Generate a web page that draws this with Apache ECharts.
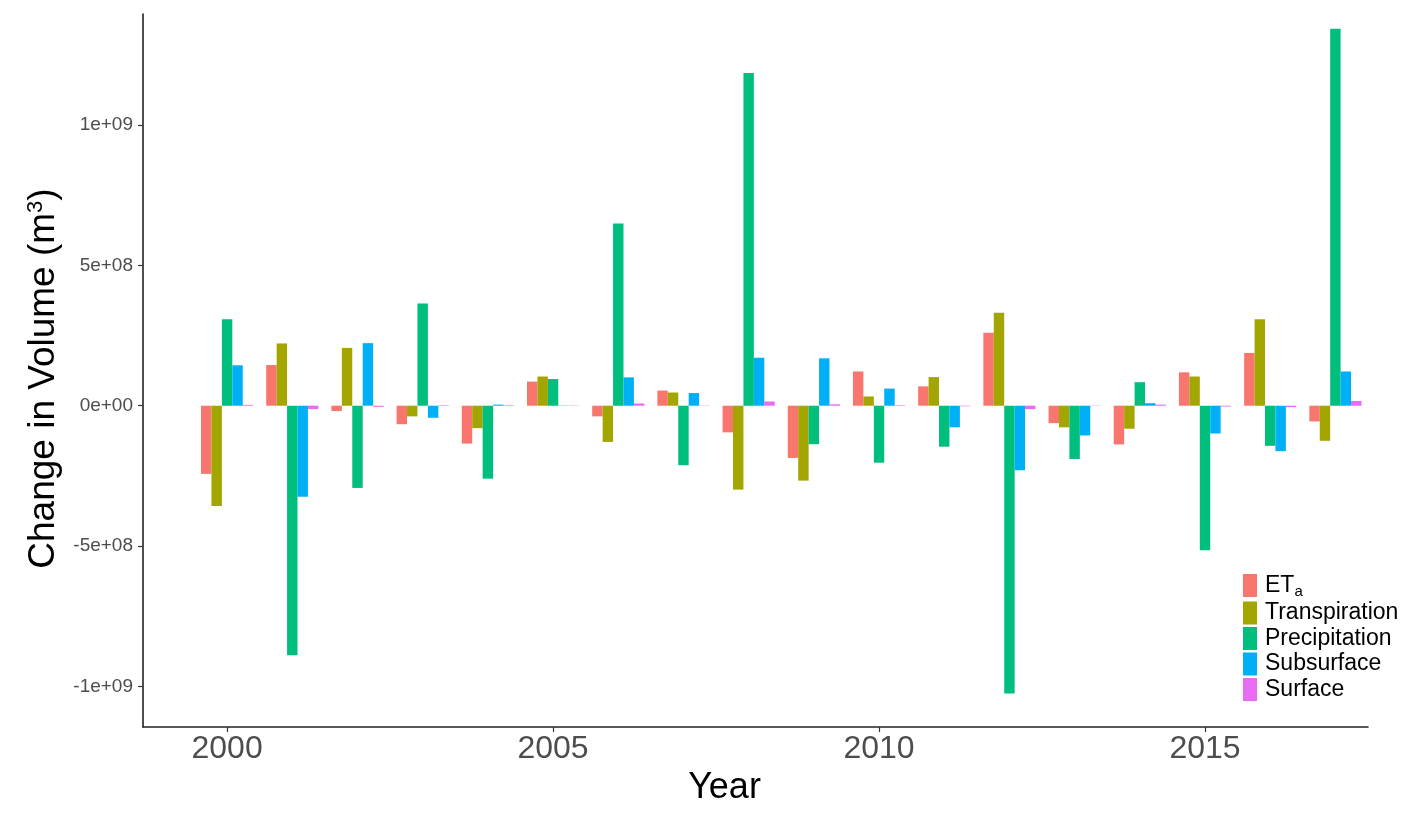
<!DOCTYPE html>
<html>
<head>
<meta charset="utf-8">
<title>Change in Volume</title>
<script src="https://cdn.jsdelivr.net/npm/echarts@6/dist/echarts.min.js"></script>
<style>
  html, body { margin: 0; padding: 0; background: #fff; }
  #chart { width: 1418px; height: 820px; }
</style>
</head>
<body>
<div id="chart"></div>
<script>
// values (m3)
var years = [2000, 2001, 2002, 2003, 2004, 2005, 2006, 2007, 2008, 2009, 2010, 2011, 2012, 2013, 2014, 2015, 2016, 2017]
var eta = [-2.43e8, 1.45e8, -1.9e7, -6.6e7, -1.35e8, 8.6e7, -3.8e7, 5.4e7, -9.5e7, -1.86e8, 1.22e8, 6.9e7, 2.6e8, -6.2e7, -1.38e8, 1.19e8, 1.88e8, -5.6e7]
var transpiration = [-3.57e8, 2.22e8, 2.06e8, -3.8e7, -8.0e7, 1.04e8, -1.29e8, 4.7e7, -2.99e8, -2.67e8, 3.3e7, 1.02e8, 3.31e8, -7.7e7, -8.2e7, 1.04e8, 3.08e8, -1.25e8]
var precipitation = [3.08e8, -8.89e8, -2.93e8, 3.64e8, -2.6e8, 9.5e7, 6.49e8, -2.12e8, 1.186e9, -1.37e8, -2.03e8, -1.46e8, -1.026e9, -1.9e8, 8.4e7, -5.15e8, -1.43e8, 1.343e9]
var subsurface = [1.44e8, -3.24e8, 2.23e8, -4.3e7, 4e6, 1e6, 1.01e8, 4.5e7, 1.71e8, 1.69e8, 6.1e7, -7.7e7, -2.3e8, -1.06e8, 9e6, -9.9e7, -1.62e8, 1.22e8]
var surface = [3e6, -1.2e7, -4e6, 2e6, 2e6, 1e6, 8e6, 1e6, 1.5e7, 5e6, 2e6, -2e6, -1.2e7, 1e6, 4e6, -3e6, -5e6, 1.7e7]

var seriesNames = ['ETa', 'Transpiration', 'Precipitation', 'Subsurface', 'Surface']
var seriesValues = [eta, transpiration, precipitation, subsurface, surface]
var yTicks = [-1e9, -5e8, 0, 5e8, 1e9]
var xTicks = [2000, 2005, 2010, 2015]

var colors = ['#F8766D', '#A3A500', '#00BF7D', '#00B0F6', '#E76BF3']
var font = '"Liberation Sans", Arial, sans-serif'

// 1e+09 style labels like R prints them
function sci (v) {
  var parts = v.toExponential(0).split('e')
  var exp = parts[1]
  return parts[0] + 'e' + exp[0] + exp.slice(1).padStart(2, '0')
}

var chart = echarts.init(document.getElementById('chart'))

var series = seriesNames.map(function (name, i) {
  return {
    name: name,
    type: 'bar',
    barWidth: '16%',
    barGap: '0%',
    itemStyle: { color: colors[i] },
    data: years.map(function (y, k) { return [y, seriesValues[i][k]] })
  }
})

var option = {
  animation: false,
  backgroundColor: '#fff',
  textStyle: { fontFamily: font },
  grid: { left: 143, right: 50, top: 14, bottom: 93 },
  legend: {
    orient: 'vertical',
    left: 1243,
    top: 574,
    padding: 0,
    icon: 'rect',
    itemWidth: 14,
    itemHeight: 23,
    itemGap: 2.5,
    data: seriesNames,
    textStyle: {
      fontFamily: font,
      fontSize: 23,
      color: '#000',
      padding: [0, 0, 0, 3],
      rich: {
        n: { fontSize: 23, color: '#000', fontFamily: font },
        s: { fontSize: 15, color: '#000', fontFamily: font, verticalAlign: 'bottom', padding: [12, 0, 0, 0] }
      }
    },
    formatter: function (name) {
      if (name === 'ETa') return '{n|ET}{s|a}'
      return name
    }
  },
  xAxis: {
    type: 'value',
    min: 1998.71,
    max: 2017.5,
    name: 'Year',
    nameLocation: 'middle',
    nameGap: 42,
    nameTextStyle: { fontSize: 36, color: '#000', fontFamily: font, padding: [0, 62, 0, 0] },
    splitLine: { show: false },
    axisLine: { onZero: false, lineStyle: { color: '#222', width: 1.6 } },
    axisTick: { customValues: xTicks, length: 5, lineStyle: { color: '#333', width: 1.2 } },
    axisLabel: {
      customValues: xTicks,
      fontSize: 32,
      color: '#4D4D4D',
      margin: 6,
      fontFamily: font,
      formatter: function (v) { return String(v) }
    }
  },
  yAxis: {
    type: 'value',
    min: -1.145e9,
    max: 1.396e9,
    name: 'Change in Volume (m{sup|3})',
    nameLocation: 'middle',
    nameGap: 80,
    nameTextStyle: {
      fontSize: 37,
      color: '#000',
      fontFamily: font,
      padding: [0, 16, 0, 0],
      rich: {
        sup: { fontSize: 22, color: '#000', fontFamily: font, verticalAlign: 'top' }
      }
    },
    splitLine: { show: false },
    axisLine: { show: true, onZero: false, lineStyle: { color: '#222', width: 1.6 } },
    axisTick: { show: true, customValues: yTicks, length: 5, lineStyle: { color: '#333', width: 1.2 } },
    axisLabel: {
      customValues: yTicks,
      fontSize: 19,
      color: '#4D4D4D',
      margin: 10,
      fontFamily: font,
      formatter: function (v) { return sci(v) }
    }
  },
  series: series
}

chart.setOption(option)
</script>
</body>
</html>
